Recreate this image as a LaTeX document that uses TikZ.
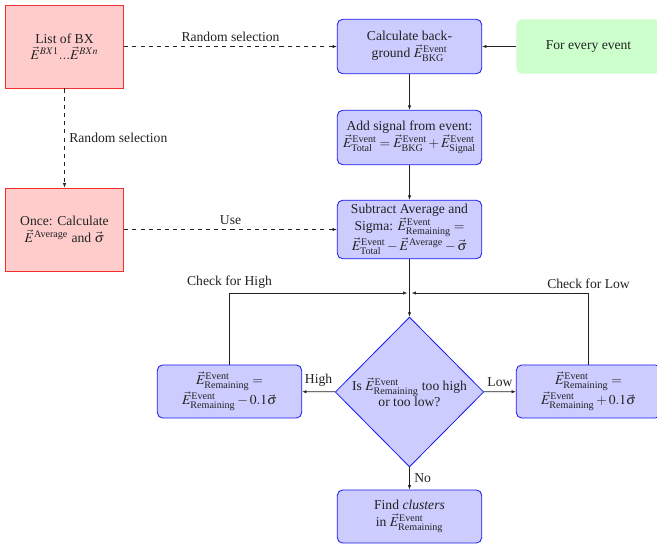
\documentclass[tikz,border=0pt]{standalone}
\usepackage{amsmath}
\usepackage{mathptmx}
\usepackage{fontspec}
\setmainfont{Liberation Serif}
\usepackage{tikz}
\usetikzlibrary{arrows.meta,calc,positioning,shapes.geometric}
\definecolor{ink}{HTML}{222222}
\definecolor{procblue}{HTML}{1A1AF0}
\definecolor{srcred}{HTML}{F03030}
\newcommand{\Ev}[1]{\vec{E}^{\text{Event}}_{\text{#1}}}

\begin{document}
\begin{tikzpicture}[x=0.734pt,y=-0.734pt,>={Latex[length=3.2pt,width=2.4pt]},
  proc/.style={draw=procblue,fill=blue!20,rounded corners=4pt,line width=0.6pt,minimum width=106pt,minimum height=40pt,inner sep=2pt,align=center,text=ink},
  src/.style={draw=srcred,fill=red!20,line width=0.6pt,minimum width=87pt,minimum height=61pt,align=center,text=ink},
  start/.style={fill=green!20,rounded corners=4pt,minimum width=106pt,minimum height=40pt,align=center,text=ink},
  dec/.style={diamond,aspect=1,draw=procblue,fill=blue!20,line width=0.6pt,minimum width=109pt,minimum height=110pt,inner sep=0pt,align=center,text=ink},
  link/.style={->,ink,line width=0.45pt},
  pick/.style={link,dashed}]
\useasboundingbox (0,0) rectangle (657,544);
% sources on the left
\node[src] (bxlist) at (64.5,46.5) {List of BX\\$\vec{E}^{BX1}...\vec{E}^{BXn}$};
\node[src] (once) at (64.5,229.5) {Once: Calculate\\$\vec{E}^{\text{Average}}$ and $\vec{\sigma}$};
% main chain
\node[start] (every) at (588.5,46.5) {For every event};
\node[proc] (bkg) at (409.5,46.5) {Calculate back-\\ground $\Ev{BKG}$};
\node[proc] (signal) at (409.5,137.5) {Add signal from event:\\$\Ev{Total}=\Ev{BKG}+\Ev{Signal}$};
\node[proc,minimum height=43pt] (sub) at (409.5,229.5) {Subtract Average and\\Sigma: $\Ev{Remaining}=$\\$\Ev{Total}-\vec{E}^{\text{Average}}-\vec{\sigma}$};
\node[dec] (check) at (409.5,392) {Is $\Ev{Remaining}$ too high\\or too low?};
\node[proc,minimum height=39pt] (lower) at (229.5,391.5) {$\Ev{Remaining}=$\\$\Ev{Remaining}-0.1\vec{\sigma}$};
\node[proc,minimum height=39pt] (raise) at (588.5,391.5) {$\Ev{Remaining}=$\\$\Ev{Remaining}+0.1\vec{\sigma}$};
\node[proc,minimum height=39pt] (clusters) at (409.5,516.5) {Find \emph{clusters}\\in $\Ev{Remaining}$};
\coordinate (join) at (409.5,293);
% connectors
\draw[pick] (bxlist) -- node[above,text=ink]{Random selection} (bkg);
\draw[pick] (bxlist) -- node[right,text=ink]{Random selection} (once);
\draw[pick] (once) -- node[above,text=ink]{Use} (sub);
\draw[link] (every) -- (bkg);
\draw[link] (bkg) -- (signal);
\draw[link] (signal) -- (sub);
\draw[link] (sub) -- (check);
\draw[link,shorten >=1.5pt] (lower) |- node[above,pos=0.5,text=ink]{Check for High} (join);
\draw[link,shorten >=1.5pt] (raise) |- node[above,pos=0.5,text=ink]{Check for Low} (join);
\draw[link] (check) -- node[above,text=ink]{High} (lower);
\draw[link] (check) -- node[above,text=ink]{Low} (raise);
\draw[link] (check) -- node[right,text=ink]{No} (clusters);
\end{tikzpicture}
\end{document}
